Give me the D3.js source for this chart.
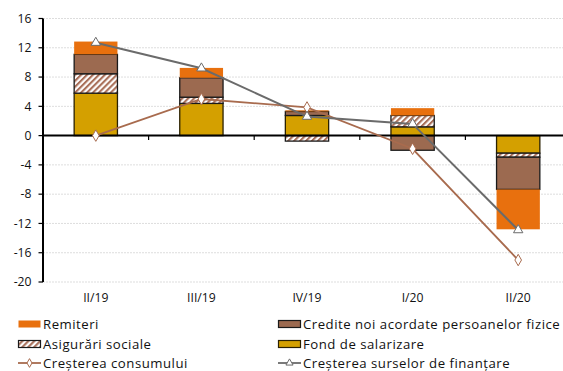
<!DOCTYPE html>
<html>
<head>
<meta charset="utf-8">
<script src="https://cdn.jsdelivr.net/npm/d3@7"></script>
<style>
  html, body { margin: 0; padding: 0; background: #fff; }
  svg { display: block; font-family: "Open Sans", sans-serif; }
</style>
</head>
<body>
<svg id="chart" width="563" height="371"></svg>
<script>
// Quarters on the horizontal axis
const categories = ["II/19", "III/19", "IV/19", "I/20", "II/20"];

// Stacked contributions (percentage points)
const fondSalarizare = [5.8, 4.4, 2.75, 1.2, -2.4];
const asigurariSociale = [2.65, 0.85, -0.75, 1.55, -0.55];
const crediteNoi = [2.65, 2.65, 0.55, -2.0, -4.4];
const remiteri = [1.75, 1.35, 0.15, 1.0, -5.45];

// Lines
const cresterConsum = [0.0, 5.0, 3.85, -1.8, -17.0];
const cresterSurse = [12.7, 9.2, 2.6, 1.6, -12.9];

const yTicks = [16, 12, 8, 4, 0, -4, -8, -12, -16, -20];

const svg = d3.select("#chart");

const x = d3.scaleBand().domain(categories).range([43, 571])
  .paddingInner(0.59).paddingOuter(0.295);
const y = d3.scaleLinear().domain([-20, 16]).range([282, 18.5]);

// hatch pattern for social insurance
const defs = svg.append("defs");
const pat = defs.append("pattern").attr("id", "hatch")
  .attr("patternUnits", "userSpaceOnUse").attr("width", 4.2).attr("height", 4.2)
  .attr("patternTransform", "rotate(45)");
pat.append("rect").attr("width", 4.2).attr("height", 4.2).attr("fill", "#fff");
pat.append("rect").attr("x", 0).attr("y", 0).attr("width", 2.1).attr("height", 4.2).attr("fill", "#A9705A");

// gridlines
svg.append("g").selectAll("line").data(yTicks.filter(d => d !== 0)).join("line")
  .attr("x1", 43).attr("x2", 563)
  .attr("y1", d => y(d)).attr("y2", d => y(d))
  .attr("stroke", "#d4d4d4").attr("stroke-width", 0.8).attr("stroke-dasharray", "2,1");

// stacked bars
const seriesKeys = ["fond", "asig", "credite", "remiteri"];
const rows = categories.map((c, i) => ({
  cat: c, fond: fondSalarizare[i], asig: asigurariSociale[i],
  credite: crediteNoi[i], remiteri: remiteri[i]
}));
const stack = d3.stack().keys(seriesKeys).offset(d3.stackOffsetDiverging);
const stacked = stack(rows);

const styles = {
  fond: { fill: "#D4A000", stroke: "#2b2100", sw: 1.3 },
  asig: { fill: "url(#hatch)", stroke: "#1a1a1a", sw: 1.3 },
  credite: { fill: "#9C6A50", stroke: "#1a1a1a", sw: 1.3 },
  remiteri: { fill: "#E8700E", stroke: "none", sw: 0 }
};

stacked.forEach(s => {
  const st = styles[s.key];
  svg.append("g").selectAll("rect").data(s.filter(d => d[1] - d[0] !== 0)).join("rect")
    .attr("x", d => x(d.data.cat))
    .attr("width", x.bandwidth())
    .attr("y", d => y(Math.max(d[0], d[1])))
    .attr("height", d => Math.abs(y(d[0]) - y(d[1])))
    .attr("fill", st.fill)
    .attr("stroke", st.stroke)
    .attr("stroke-width", st.sw);
});

// axes
const xPos = c => x(c) + x.bandwidth() / 2;
const boundaries = categories.map(c => xPos(c) + x.step() / 2);

svg.append("line").attr("x1", 43).attr("x2", 563).attr("y1", y(0)).attr("y2", y(0))
  .attr("stroke", "#000").attr("stroke-width", 2);
svg.append("g").selectAll("line").data(boundaries).join("line")
  .attr("x1", d => d).attr("x2", d => d)
  .attr("y1", y(0)).attr("y2", y(0) + 4.5)
  .attr("stroke", "#000").attr("stroke-width", 1.2);

svg.append("line").attr("x1", 43).attr("x2", 43).attr("y1", y(16)).attr("y2", y(-20))
  .attr("stroke", "#000").attr("stroke-width", 2);
svg.append("g").selectAll("line").data(yTicks).join("line")
  .attr("x1", 38.5).attr("x2", 43)
  .attr("y1", d => y(d)).attr("y2", d => y(d))
  .attr("stroke", "#000").attr("stroke-width", 1.2);
svg.append("g").selectAll("text").data(yTicks).join("text")
  .attr("x", 31.5).attr("y", d => y(d))
  .attr("dy", "0.35em").attr("text-anchor", "end")
  .attr("font-size", 12.2).attr("fill", "#111")
  .text(d => d);

svg.append("g").selectAll("text").data(categories).join("text")
  .attr("x", d => xPos(d)).attr("y", 301.5)
  .attr("text-anchor", "middle").attr("font-size", 12.2).attr("fill", "#111")
  .text(d => d);

// lines
const line = d3.line().x((d, i) => xPos(categories[i])).y(d => y(d));
svg.append("path").datum(cresterConsum).attr("d", line)
  .attr("fill", "none").attr("stroke", "#A86B4E").attr("stroke-width", 1.8);
svg.append("path").datum(cresterSurse).attr("d", line)
  .attr("fill", "none").attr("stroke", "#6B6B6B").attr("stroke-width", 2);

const diamond = d3.symbol().type(d3.symbolDiamond).size(38);
const triangle = d3.symbol().type(d3.symbolTriangle).size(38);

svg.append("g").selectAll("path").data(cresterConsum).join("path")
  .attr("transform", (d, i) => `translate(${xPos(categories[i])},${y(d)})`)
  .attr("d", diamond).attr("fill", "#fff").attr("stroke", "#A86B4E").attr("stroke-width", 1);
svg.append("g").selectAll("path").data(cresterSurse).join("path")
  .attr("transform", (d, i) => `translate(${xPos(categories[i])},${y(d)})`)
  .attr("d", triangle).attr("fill", "#fff").attr("stroke", "#6B6B6B").attr("stroke-width", 1);

// legend
const legendItems = [
  { label: "Remiteri", kind: "rect", key: "remiteri", x: 18, y: 324 },
  { label: "Credite noi acordate persoanelor fizice", kind: "rect", key: "credite", x: 278, y: 324 },
  { label: "Asigurări sociale", kind: "rect", key: "asig", x: 18, y: 344 },
  { label: "Fond de salarizare", kind: "rect", key: "fond", x: 278, y: 344 },
  { label: "Creșterea consumului", kind: "line", color: "#A86B4E", sym: diamond, x: 18, y: 363 },
  { label: "Creșterea surselor de finanțare", kind: "line", color: "#6B6B6B", sym: triangle, x: 278, y: 363 }
];
const lg = svg.append("g").selectAll("g").data(legendItems).join("g")
  .attr("transform", d => `translate(${d.x},${d.y})`);
lg.filter(d => d.kind === "rect").append("rect")
  .attr("x", 0.5).attr("y", -3.5).attr("width", 22).attr("height", 7)
  .attr("fill", d => styles[d.key].fill)
  .attr("stroke", d => styles[d.key].stroke)
  .attr("stroke-width", d => styles[d.key].sw ? 1.2 : 0);
lg.filter(d => d.kind === "line").append("line")
  .attr("x1", 0).attr("x2", 23).attr("y1", 0).attr("y2", 0)
  .attr("stroke", d => d.color).attr("stroke-width", 1.8);
lg.filter(d => d.kind === "line").append("path")
  .attr("transform", "translate(11.5,0)")
  .attr("d", d => d.sym.size(22)())
  .attr("fill", "#fff").attr("stroke", d => d.color).attr("stroke-width", 1);
lg.append("text").attr("x", 25).attr("y", 0).attr("dy", "0.35em")
  .attr("font-size", 13.2).attr("letter-spacing", 0.5).attr("fill", "#111")
  .text(d => d.label);
</script>
</body>
</html>
